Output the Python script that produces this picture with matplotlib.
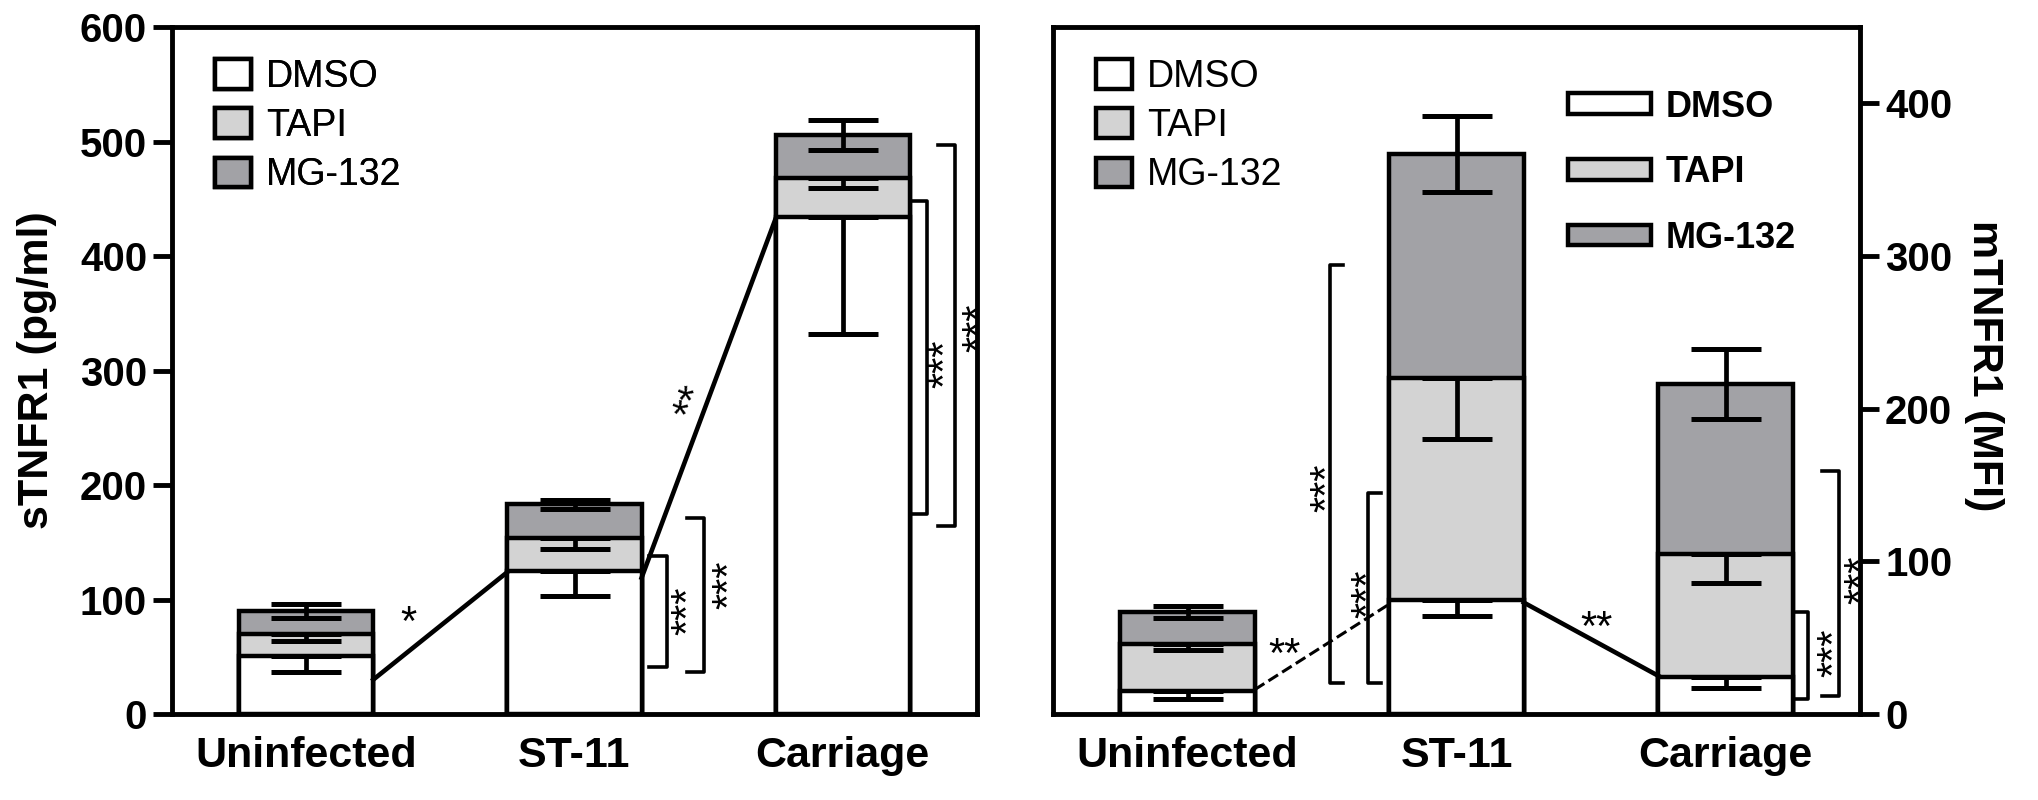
import numpy as np
import matplotlib.pyplot as plt
from matplotlib.patches import Patch

plt.rcParams['font.family'] = ['Liberation Sans', 'DejaVu Sans']

groups = ['Uninfected', 'ST-11', 'Carriage']
treatments = ['DMSO', 'TAPI', 'MG-132']
colors = {'DMSO': 'white', 'TAPI': '#d3d3d3', 'MG-132': '#a2a2a6'}

# sTNFR1 (pg/ml), left panel
s_dmso = [51, 125, 434]
s_dmso_err = [14, 22, 102]
s_tapi = [70, 154, 468]
s_tapi_err = [6, 10, 9]
s_mg = [90, 183, 506]
s_mg_err = [6, 4, 13]

# mTNFR1 (MFI), right panel
m_dmso = [15, 75, 24]
m_dmso_err = [5, 11, 7]
m_tapi = [46, 220, 105]
m_tapi_err = [4, 40, 19]
m_mg = [67, 367, 216]
m_mg_err = [4, 25, 23]

# lines joining the groups
s_link_x = [[0.25, 0.75], [1.25, 1.75]]
s_link_y = [[30, 124], [119, 433]]
s_link_style = ['-', '-']
s_link_star = ['*', '**']
s_link_star_xy = [(0.38, 79), (1.44, 272)]
s_link_star_rot = [0, 69]

m_link_x = [[0.25, 0.75], [1.25, 1.75]]
m_link_y = [[16, 72], [73, 25]]
m_link_style = ['--', '-']
m_link_star = ['**', '**']
m_link_star_xy = [(0.36, 38), (1.52, 56)]
m_link_star_rot = [0, 0]

# significance brackets: x, bottom, top, cap end, label x, label y
s_br_x = [1.345, 1.484, 2.312, 2.417]
s_br_lo = [41, 37, 175, 164]
s_br_hi = [138, 171, 448, 497]
s_br_cap = [1.277, 1.42, 2.252, 2.353]
s_br_lab_x = [1.427, 1.582, 2.387, 2.511]
s_br_lab_y = [90, 113, 306, 337]

m_br_x = [0.528, 0.67, 2.307, 2.42]
m_br_lo = [20, 20, 10, 12]
m_br_hi = [294, 145, 67, 159]
m_br_cap = [0.577, 0.72, 2.255, 2.36]
m_br_lab_x = [0.524, 0.674, 2.407, 2.509]
m_br_lab_y = [148, 79, 40, 88]


def draw_bars(ax, dmso, dmso_err, tapi, tapi_err, mg, mg_err):
    x = np.arange(len(groups))
    layers = [('MG-132', mg, mg_err, True), ('TAPI', tapi, tapi_err, False),
              ('DMSO', dmso, dmso_err, False)]
    for z, (name, vals, err, both) in enumerate(layers):
        ax.bar(x, vals, width=0.5, color=colors[name], edgecolor='black',
               linewidth=3.2, zorder=2 * z + 1)
        err = np.array(err)
        up = err if both else np.zeros_like(err)
        ax.errorbar(x, vals, yerr=[err, up], fmt='none', ecolor='black',
                    elinewidth=3.4, capsize=25, capthick=3.6, zorder=2 * z + 2)


def draw_marks(ax, lx, ly, ls, st, st_xy, st_rot, bx, blo, bhi, bcap, blx, bly):
    for xs, ys, s in zip(lx, ly, ls):
        ax.plot(xs, ys, color='black', lw=3.3 if s == '-' else 2.2, ls=s, zorder=8)
    for t, (tx, ty), r in zip(st, st_xy, st_rot):
        ax.text(tx, ty, t, fontsize=30, rotation=r, ha='center', va='center', zorder=9)
    for x0, lo, hi, c, tx, ty in zip(bx, blo, bhi, bcap, blx, bly):
        ax.plot([c, x0, x0, c], [hi, hi, lo, lo], color='black', lw=2.6, zorder=8)
        ax.text(tx, ty, '***', fontsize=30, rotation=90, ha='center', va='center',
                zorder=9, clip_on=False)


def style_axis(ax, yticks):
    for s in ax.spines.values():
        s.set_linewidth(3.5)
    ax.set_xlim(-0.5, 2.5)
    ax.set_xticks(np.arange(len(groups)), groups, fontsize=31, fontweight='bold')
    ax.tick_params(axis='x', length=0, pad=16)
    ax.set_yticks(yticks, [str(t) for t in yticks], fontsize=29, fontweight='bold')
    ax.tick_params(axis='y', length=14, width=3.5, direction='out', pad=4)


fig = plt.figure(figsize=(20.38, 8), dpi=100)
ax1 = fig.add_axes([0.0844, 0.1075, 0.395, 0.8587])
ax2 = fig.add_axes([0.5167, 0.1075, 0.396, 0.8587])

draw_bars(ax1, s_dmso, s_dmso_err, s_tapi, s_tapi_err, s_mg, s_mg_err)
draw_marks(ax1, s_link_x, s_link_y, s_link_style, s_link_star, s_link_star_xy,
           s_link_star_rot, s_br_x, s_br_lo, s_br_hi, s_br_cap, s_br_lab_x, s_br_lab_y)
ax1.set_ylim(0, 600)
style_axis(ax1, [0, 100, 200, 300, 400, 500, 600])
ax1.set_ylabel('sTNFR1 (pg/ml)', fontsize=31, fontweight='bold')
ax1.yaxis.set_label_coords(-0.143, 0.5)

draw_bars(ax2, m_dmso, m_dmso_err, m_tapi, m_tapi_err, m_mg, m_mg_err)
draw_marks(ax2, m_link_x, m_link_y, m_link_style, m_link_star, m_link_star_xy,
           m_link_star_rot, m_br_x, m_br_lo, m_br_hi, m_br_cap, m_br_lab_x, m_br_lab_y)
ax2.set_ylim(0, 450)
ax2.yaxis.tick_right()
style_axis(ax2, [0, 100, 200, 300, 400])
ax2.yaxis.set_label_position('right')
ax2.set_ylabel('mTNFR1 (MFI)', fontsize=31, fontweight='bold', rotation=270)
ax2.yaxis.set_label_coords(1.178, 0.507)

handles = [Patch(facecolor=colors[t], edgecolor='black', linewidth=3.2) for t in treatments]
for ax in (ax1, ax2):
    leg = ax.legend(handles, treatments, loc='upper left', bbox_to_anchor=(0.035, 0.975),
                    frameon=False, fontsize=27, handlelength=0.95, handleheight=0.85,
                    labelspacing=0.35, handletextpad=0.4, borderaxespad=0)
    ax.add_artist(leg)

ax2.legend(handles, treatments, loc='upper left', bbox_to_anchor=(0.62, 0.93),
           frameon=False, prop={'weight': 'bold', 'size': 26}, handlelength=2.3,
           handleheight=0.5, labelspacing=0.85, handletextpad=0.4, borderaxespad=0)

fig.savefig('out.png', dpi=100)
